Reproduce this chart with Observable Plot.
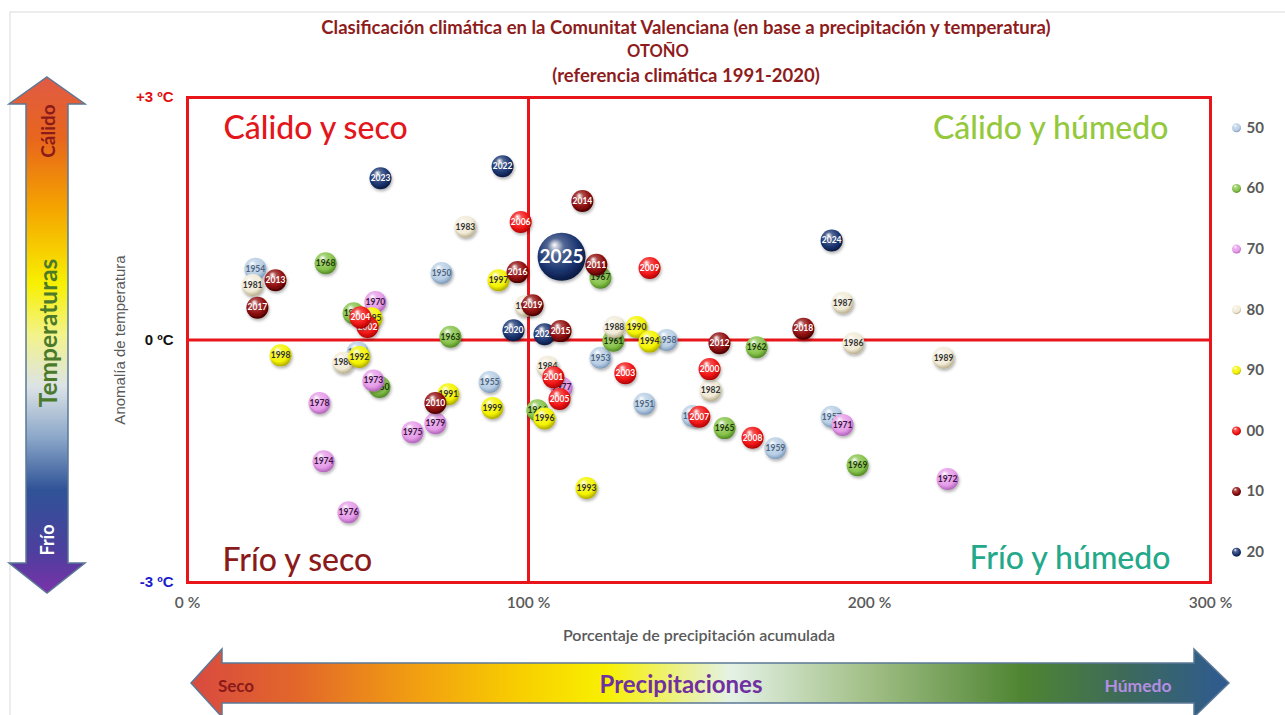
<!DOCTYPE html>
<html>
<head>
<meta charset="utf-8">
<script src="https://cdn.jsdelivr.net/npm/d3@7"></script>
<script src="https://cdn.jsdelivr.net/npm/@observablehq/plot@0.6"></script>
<style>
  body { margin: 0; background: #fff; overflow: hidden; }
  #chart svg { display: block; }
</style>
</head>
<body>
<div id="chart"></div>
<script>
// ---------------- DATA ----------------
const years  = [1950,1951,1952,1953,1954,1955,1956,1957,1958,1959,
                1960,1961,1962,1963,1964,1965,1966,1967,1968,1969,
                1970,1971,1972,1973,1974,1975,1976,1977,1978,1979,
                1980,1981,1982,1983,1984,1985,1986,1987,1988,1989,
                1990,1991,1992,1993,1994,1995,1996,1997,1998,1999,
                2000,2001,2002,2003,2004,2005,2006,2007,2008,2009,
                2010,2011,2012,2013,2014,2016,2017,2018,2019,
                2020,2021,2015,2022,2023,2024,2025];
const precip = [74.5,134.0,49.9,121.1,19.9,88.6,148.1,188.9,140.5,172.4,
                56.3,124.9,166.9,77.1,48.7,157.5,102.6,121.1,40.5,196.5,
                55.1,192.1,222.9,54.5,39.9,66.0,47.2,109.7,38.7,72.7,
                45.7,19.1,153.4,81.5,105.6,99.1,195.3,192.1,125.2,221.7,
                131.7,76.5,50.4,117.0,135.5,54.0,104.7,91.2,27.3,89.4,
                153.1,107.3,52.8,128.4,50.7,109.1,97.7,150.1,165.7,135.5,
                72.7,119.9,156.0,25.8,115.8,96.8,20.5,180.6,101.2,
                95.6,104.7,109.4,92.4,56.6,188.9,109.7];
const temp   = [0.83,-0.79,-0.15,-0.22,0.88,-0.52,-0.94,-0.95,0.00,-1.34,
                -0.58,-0.01,-0.09,0.04,0.33,-1.09,-0.87,0.77,0.95,-1.55,
                0.47,-1.05,-1.72,-0.50,-1.50,-1.14,-2.13,-0.59,-0.78,-1.03,
                -0.28,0.68,-0.62,1.40,-0.33,0.42,-0.04,0.46,0.16,-0.22,
                0.16,-0.67,-0.21,-1.83,-0.02,0.27,-0.97,0.74,-0.19,-0.84,
                -0.36,-0.46,0.16,-0.41,0.28,-0.73,1.46,-0.95,-1.21,0.89,
                -0.78,0.93,-0.04,0.74,1.72,0.84,0.40,0.14,0.43,
                0.12,0.07,0.11,2.15,2.00,1.23,1.03];

const decadeKeys   = ["50","60","70","80","90","00","10","20"];
const decadeBase   = ["#b9cfe5","#88c44c","#e69de9","#f1ebd8","#f4f400","#f21616","#900d0d","#1b3671"];
const decadeDark   = ["#7895b6","#4c8420","#ad5db5","#b4a984","#a9a300","#a80000","#420000","#08173d"];
const decadeText   = ["#4e6480","#1f3a0e","#3b1542","#333333","#333333","#ffffff","#ffffff","#ffffff"];

const xTicks      = [0, 100, 200, 300];
const yTicks      = [3, 0, -3];
const yTickLabels = ["+3 ºC", "0 ºC", "-3 ºC"];
const yTickColors = ["#e01010", "#111111", "#1b1bcc"];

const quadrants = [
  {text: "Cálido y seco",   anchor: "top-left",     color: "#e3161b", dx: 36,  dy: 31},
  {text: "Cálido y húmedo", anchor: "top-right",    color: "#94c83d", dx: -42, dy: 31},
  {text: "Frío y seco",     anchor: "bottom-left",  color: "#8b1a1a", dx: 35,  dy: -22},
  {text: "Frío y húmedo",   anchor: "bottom-right", color: "#23a98a", dx: -40, dy: -24}
];

const titleLines = [
  "Clasificación climática en la Comunitat Valenciana (en base a precipitación y temperatura)",
  "OTOÑO",
  "(referencia climática 1991-2020)"
];

// ---------------- BUILD ----------------
const decIndex = yr => decadeKeys.indexOf(String(Math.floor(yr / 10) % 10) + "0");
const data = years.map((yr, i) => ({year: yr, x: precip[i], y: temp[i], d: decIndex(yr)}));

const marks = [];
marks.push(Plot.ruleX([100], {stroke: "#e8161b", strokeWidth: 3}));
marks.push(Plot.ruleY([0], {stroke: "#e8161b", strokeWidth: 3}));
marks.push(Plot.frame({stroke: "#e8161b", strokeWidth: 3}));

marks.push(Plot.axisX({
  ticks: xTicks, tickFormat: d => d + " %", tickSize: 0, tickPadding: 14,
  fontSize: 15.5, fill: "#595959", fontWeight: 600, label: null
}));

yTicks.forEach((t, i) => {
  marks.push(Plot.text([t], {
    y: d => d, text: () => yTickLabels[i], frameAnchor: "left", dx: -14,
    textAnchor: "end", fill: yTickColors[i], fontWeight: "bold", fontSize: 15,
    fontFamily: "Liberation Sans"
  }));
});

marks.push(Plot.text(["Anomalía de temperatura"], {
  text: d => d, frameAnchor: "left", dx: -67, rotate: -90, textAnchor: "middle",
  fill: "#595959", fontSize: 15, fontFamily: "Liberation Sans"
}));
marks.push(Plot.text(["Porcentaje de precipitación acumulada"], {
  text: d => d, frameAnchor: "bottom", dy: 58, textAnchor: "middle", fill: "#595959",
  fontSize: 16, fontWeight: 600, fontFamily: "Lato"
}));

quadrants.forEach(q => {
  marks.push(Plot.text([q.text], {
    text: d => d, frameAnchor: q.anchor, dx: q.dx, dy: q.dy,
    lineAnchor: "middle", fill: q.color, fontSize: 32, fontFamily: "Lato",
    fontWeight: 500
  }));
});

// points: sphere then label, in order, so later spheres cover earlier labels
data.forEach(p => {
  const big = p.year === 2025;
  marks.push(Plot.dot([p], {
    x: "x", y: "y", r: big ? 24 : 11, fill: `url(#sph${p.d})`, stroke: "none",
    className: "sphere"
  }));
  marks.push(Plot.text([p], {
    x: "x", y: "y", text: d => String(d.year), fill: decadeText[p.d],
    fontSize: big ? 19 : 8.5, fontWeight: "bold", fontFamily: "Lato"
  }));
});

// legend (decades) placed beside the frame, on the y scale
const legendY = decadeKeys.map((k, i) => 2.625 - i * 0.75);
decadeKeys.forEach((k, i) => {
  marks.push(Plot.dot([legendY[i]], {
    y: d => d, frameAnchor: "right", dx: 26, r: 4.5, fill: `url(#sph${i})`, stroke: "none"
  }));
  marks.push(Plot.text([legendY[i]], {
    y: d => d, text: () => k, frameAnchor: "right", dx: 36, textAnchor: "start",
    fill: "#595959", fontSize: 15, fontWeight: "bold", fontFamily: "Lato"
  }));
});

const plot = Plot.plot({
  width: 1285, height: 715,
  marginLeft: 187, marginRight: 75, marginTop: 97, marginBottom: 133,
  x: {domain: [0, 300]},
  y: {domain: [-3, 3], axis: null},
  style: {background: "white", fontFamily: "Lato", overflow: "visible"},
  marks
});
document.getElementById("chart").appendChild(plot);

// ---------------- DECORATION ----------------
const svg = d3.select(plot);
const defs = svg.insert("defs", ":first-child");

decadeKeys.forEach((k, i) => {
  const g = defs.append("radialGradient").attr("id", "sph" + i)
    .attr("cx", "45%").attr("cy", "40%").attr("r", "62%")
    .attr("fx", "35%").attr("fy", "25%");
  g.append("stop").attr("offset", "0%").attr("stop-color", "#ffffff").attr("stop-opacity", 0.95);
  g.append("stop").attr("offset", "28%").attr("stop-color", d3.interpolateRgb("#ffffff", decadeBase[i])(0.75));
  g.append("stop").attr("offset", "70%").attr("stop-color", decadeBase[i]);
  g.append("stop").attr("offset", "100%").attr("stop-color", decadeDark[i]);
});
const sh = defs.append("filter").attr("id", "shadow").attr("x", "-30%").attr("y", "-30%").attr("width", "160%").attr("height", "170%");
sh.append("feDropShadow").attr("dx", 1).attr("dy", 2).attr("stdDeviation", 1.5).attr("flood-color", "#000").attr("flood-opacity", 0.3);
svg.selectAll(".sphere").attr("filter", "url(#shadow)");

// vertical gradient (temperatures)
const vg = defs.append("linearGradient").attr("id", "gradT").attr("x1", 0).attr("y1", 0).attr("x2", 0).attr("y2", 1);
[["0%","#e05a45"],["12%","#e8661c"],["25%","#f4a200"],["40%","#f8f000"],["50%","#f3f38a"],
 ["60%","#dce3e6"],["70%","#8aa6c8"],["80%","#2f5397"],["92%","#4d3f9e"],["100%","#7a32a8"]]
 .forEach(([o, c]) => vg.append("stop").attr("offset", o).attr("stop-color", c));
// horizontal gradient (precipitation)
const hg = defs.append("linearGradient").attr("id", "gradP").attr("x1", 0).attr("y1", 0).attr("x2", 1).attr("y2", 0);
[["0%","#d94a40"],["10%","#e2662a"],["22%","#f2a010"],["32%","#f8d000"],["40%","#f8f000"],
 ["52%","#e4f2e6"],["65%","#a3c088"],["80%","#4f8532"],["90%","#3d6a5a"],["100%","#2e5a92"]]
 .forEach(([o, c]) => hg.append("stop").attr("offset", o).attr("stop-color", c));

const deco = svg.insert("g", "defs + *");
deco.append("rect").attr("x", 10).attr("y", 12).attr("width", 1300).attr("height", 720)
  .attr("fill", "none").attr("stroke", "#d9d9d9").attr("stroke-width", 1);

// left arrow
deco.append("path")
  .attr("d", "M47,77 L85,104 L68,104 L68,563 L85,563 L47,593 L9,563 L26,563 L26,104 L9,104 Z")
  .attr("fill", "url(#gradT)").attr("stroke", "#5b7896").attr("stroke-width", 1.5);
// bottom arrow
deco.append("path")
  .attr("d", "M191,683 L222,649 L222,663 L1194,663 L1194,649 L1229,683 L1194,717 L1194,703 L222,703 L222,717 Z")
  .attr("fill", "url(#gradP)").attr("stroke", "#5b7896").attr("stroke-width", 1.5);

const txt = (x, y, s, opts) => {
  const t = deco.append("text").attr("x", x).attr("y", y).text(s)
    .attr("text-anchor", "middle").attr("dominant-baseline", "central")
    .attr("font-family", "Lato").attr("font-weight", "bold")
    .attr("font-size", opts.size).attr("fill", opts.fill);
  if (opts.rotate) t.attr("transform", `rotate(${opts.rotate},${x},${y})`);
  return t;
};
txt(47, 131, "Cálido", {size: 19, fill: "#8b1a1a", rotate: -90});
txt(47, 333, "Temperaturas", {size: 24.5, fill: "#4b7a2b", rotate: -90});
txt(47, 540, "Frío", {size: 18, fill: "#ffffff", rotate: -90});
txt(236, 685, "Seco", {size: 17, fill: "#8b1a1a"});
txt(681, 683, "Precipitaciones", {size: 24, fill: "#7030a0"});
txt(1138, 685, "Húmedo", {size: 17.5, fill: "#b48ee0"});

// titles
const tc = "#8e1c1c";
txt(686, 27, titleLines[0], {size: 18.5, fill: tc});
txt(658, 51, titleLines[1], {size: 16.5, fill: tc});
txt(686, 75, titleLines[2], {size: 18.5, fill: tc});
</script>
</body>
</html>
